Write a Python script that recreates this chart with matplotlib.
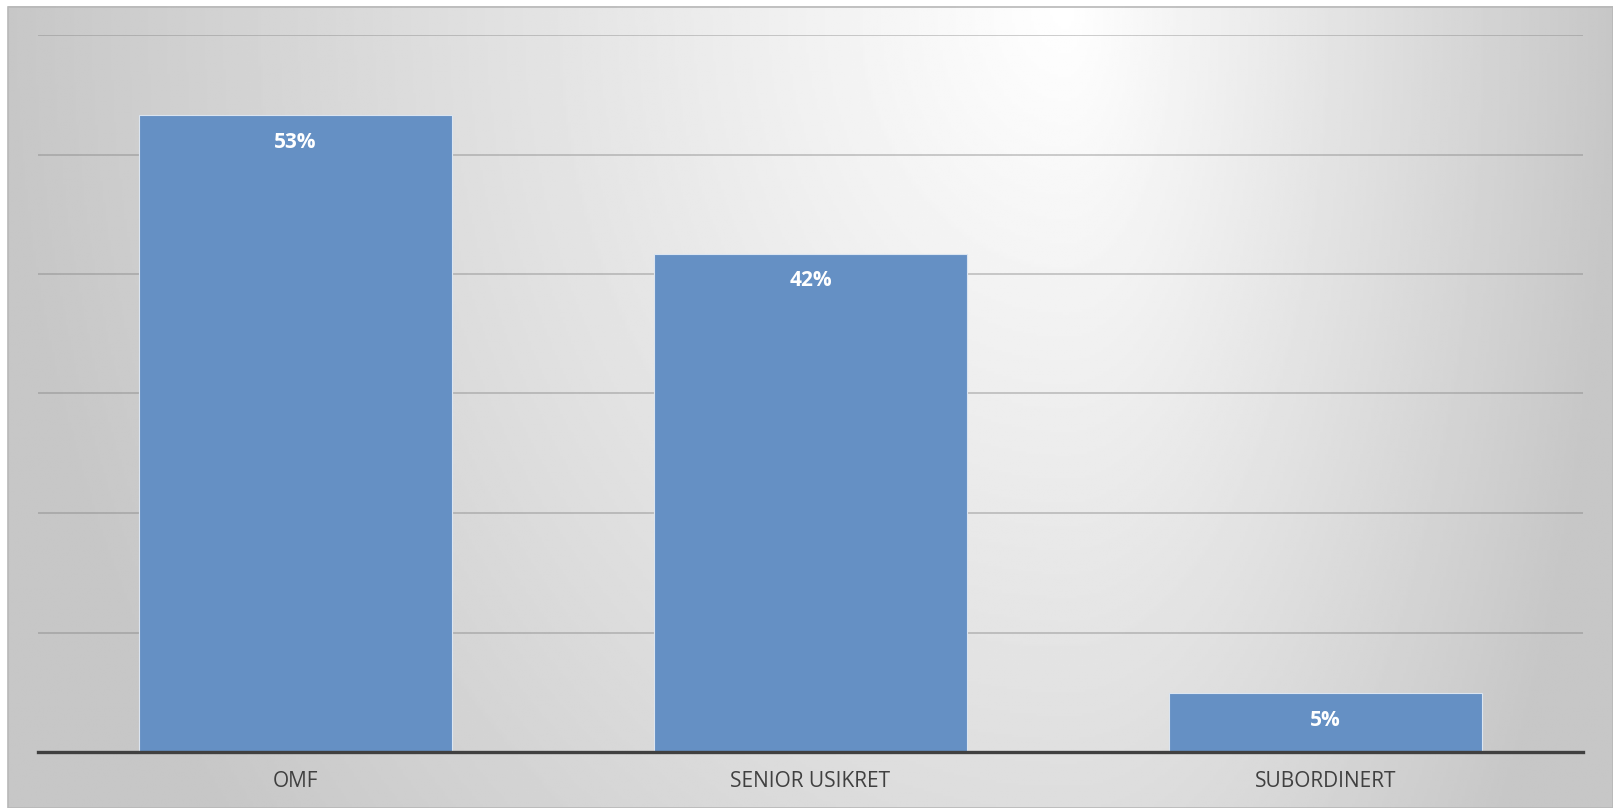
import matplotlib

matplotlib.use("Agg")

import matplotlib.pyplot as plt
import numpy as np

categories = ["OMF", "SENIOR USIKRET", "SUBORDINERT"]
shares = [53.3, 41.7, 4.9]
labels = ["53%", "42%", "5%"]

W, H, DPI = 1613, 808, 100
fig = plt.figure(figsize=(W / DPI, H / DPI), dpi=DPI)
fig.patch.set_facecolor("white")

# grey background, brightest near the top right of centre
bg = fig.add_axes([8 / W, 0, (W - 8) / W, (H - 6) / H])
bg.set_axis_off()
gx, gy = np.meshgrid(np.linspace(0, 1, 600), np.linspace(0, 1, 300))
cx = 0.66
dx = np.where(gx < cx, (cx - gx) / cx, (gx - cx) / (1 - cx))
d = np.clip(np.sqrt(dx ** 2 + (0.6 * gy) ** 2), 0, 1)
shade = 1.0 - 0.22 * d
bg.imshow(shade, cmap="gray", vmin=0, vmax=1, aspect="auto",
          extent=[0, 1, 0, 1], origin="upper")
fig.add_artist(plt.Rectangle((7.5 / W, 0), (W - 8) / W, (H - 6.5) / H,
                             transform=fig.transFigure, fill=False,
                             edgecolor="#b8b8b8", linewidth=1.2))

left, right, bottom, top = 38, 1583, 752, 35
ax = fig.add_axes([left / W, (H - bottom) / H, (right - left) / W,
                   (bottom - top) / H])
ax.patch.set_alpha(0)

x = np.arange(len(categories))
bars = ax.bar(x, shares, width=0.606, color="#6590c4",
              edgecolor="#dbe5f1", linewidth=0.8, zorder=3)
ax.set_xlim(-0.5, len(categories) - 0.5)
ax.set_ylim(0, 60)
ax.set_yticks(np.arange(0, 61, 10))
ax.yaxis.grid(True, color="#7f7f7f", alpha=0.45, linewidth=1.2, zorder=0)
ax.tick_params(axis="y", left=False, labelleft=False)
ax.tick_params(axis="x", length=0, pad=14)
ax.set_xticks(x)
ax.set_xticklabels(categories, fontsize=15, color="#404040",
                   family=["Open Sans", "DejaVu Sans"])
for s in ["left", "right", "top"]:
    ax.spines[s].set_visible(False)
ax.spines["bottom"].set_color("#404040")
ax.spines["bottom"].set_linewidth(2.4)
ax.spines["bottom"].set_zorder(4)

for b, lab in zip(bars, labels):
    ax.annotate(lab, (b.get_x() + b.get_width() / 2, b.get_height()),
                xytext=(0, -27), textcoords="offset pixels",
                ha="center", va="center", color="white", fontsize=15,
                fontweight="bold", family=["Open Sans", "DejaVu Sans"], zorder=5)

fig.savefig("out.png", dpi=DPI)
